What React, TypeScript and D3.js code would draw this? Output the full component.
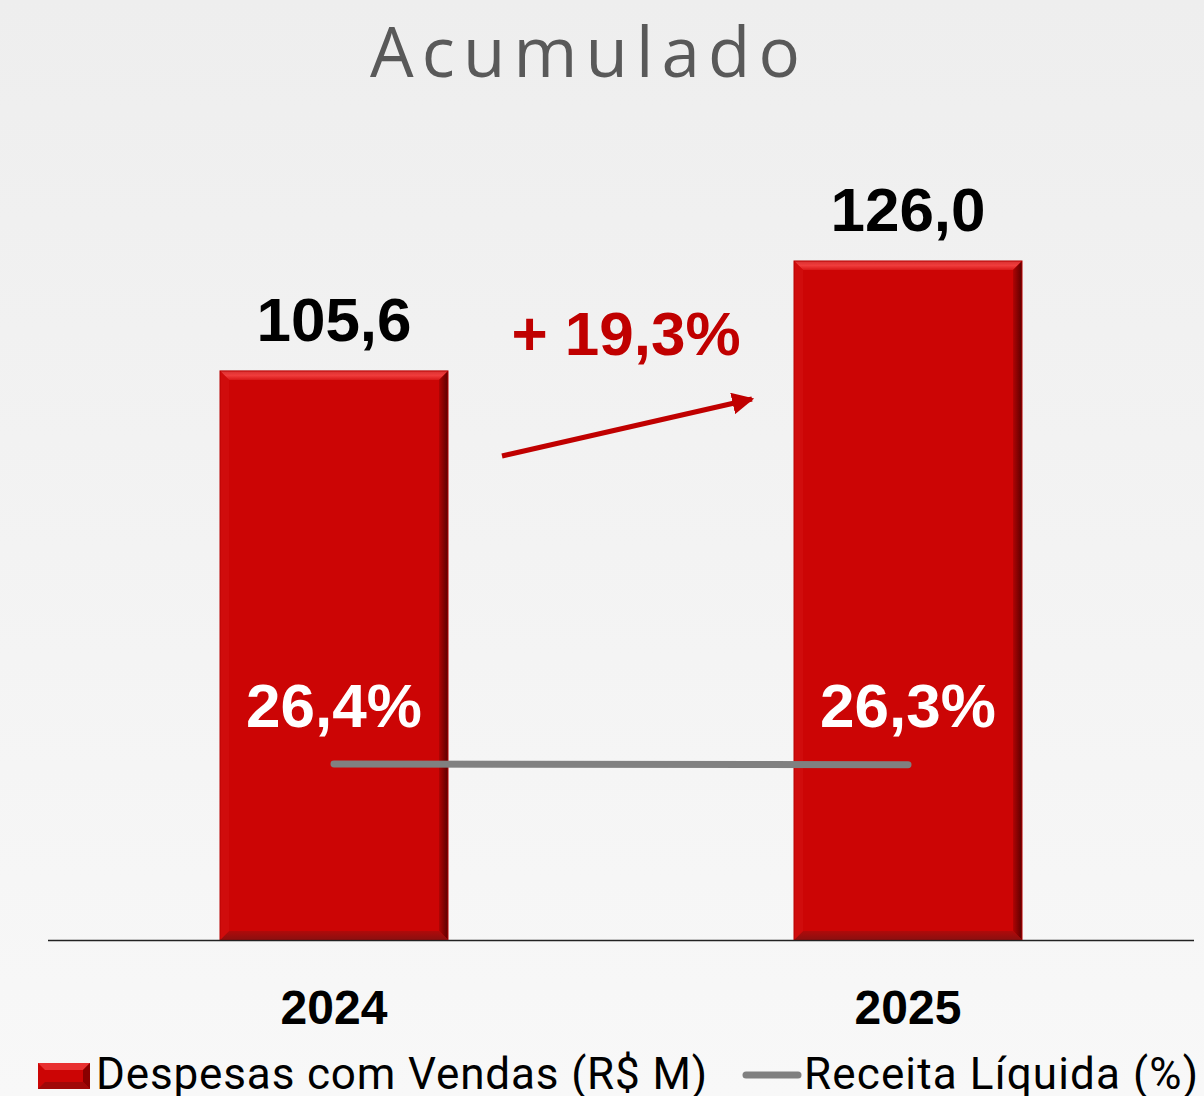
import React from "react";
import * as d3 from "d3";

const years = ["2024", "2025"];
const despesas = [105.6, 126.0];
const receitaPct = [26.4, 26.3];
const valueLabels = ["105,6", "126,0"];
const pctLabels = ["26,4%", "26,3%"];
const growthLabel = "+ 19,3%";
const title = "Acumulado";
const legendBar = "Despesas com Vendas (R$ M)";
const legendLine = "Receita Líquida (%)";

const W = 1204;
const H = 1096;

export default function App() {
  const xb = d3.scaleBand<string>().domain(years).range([220, 1022]).paddingInner(346 / 574).paddingOuter(0);
  const y = d3.scaleLinear().domain([0, 140]).range([940, 940 - 140 * 5.389]);
  const y2 = d3.scaleLinear().domain([0, 150]).range([940, -60]);
  const bw = xb.bandwidth();
  const cx = (d: string) => (xb(d) as number) + bw / 2;
  const line = d3.line<number>().x((_, i) => cx(years[i])).y((d) => y2(d));
  const bev = 9;
  const numFont = "'Liberation Sans', Arial, sans-serif";
  const legFont = "Roboto, 'Noto Sans', sans-serif";

  return (
    <svg width={W} height={H} style={{ position: "absolute", left: 0, top: 0 }}>
      <defs>
        <linearGradient id="bg" x1="0" y1="0" x2="0" y2="1">
          <stop offset="0" stopColor="#eeeeee" />
          <stop offset="1" stopColor="#f8f8f8" />
        </linearGradient>
        <linearGradient id="topBev" x1="0" y1="0" x2="0" y2="1">
          <stop offset="0" stopColor="#d83030" />
          <stop offset="0.5" stopColor="#f03c3c" />
          <stop offset="1" stopColor="#d81818" />
        </linearGradient>
        <linearGradient id="rightBev" x1="0" y1="0" x2="1" y2="0">
          <stop offset="0" stopColor="#b00404" />
          <stop offset="1" stopColor="#5a0000" />
        </linearGradient>
        <linearGradient id="botBev" x1="0" y1="0" x2="0" y2="1">
          <stop offset="0" stopColor="#b00a0a" />
          <stop offset="1" stopColor="#8a1010" />
        </linearGradient>
        <marker id="ah" viewBox="0 0 10 10" refX="9" refY="5" markerWidth="4.4" markerHeight="4.4" orient="auto">
          <path d="M0,0 L10,5 L0,10 z" fill="#c00000" />
        </marker>
      </defs>
      <rect x={0} y={0} width={W} height={H} fill="url(#bg)" />
      <text x={585} y={77} textAnchor="middle" fontFamily="'Open Sans', Lato, sans-serif" fontWeight={400} fontSize={69} textLength={430} lengthAdjust="spacing" fill="#595959">
        {title}
      </text>

      {years.map((yr, i) => {
        const x0 = xb(yr) as number;
        const x1 = x0 + bw;
        const t = y(despesas[i]);
        const b = y(0);
        return (
          <g key={yr}>
            <rect x={x0} y={t} width={bw} height={b - t} fill="#cc0505" />
            <polygon points={`${x0},${t} ${x1},${t} ${x1 - bev},${t + bev} ${x0 + bev},${t + bev}`} fill="url(#topBev)" />
            <polygon points={`${x1},${t} ${x1},${b} ${x1 - bev},${b - bev} ${x1 - bev},${t + bev}`} fill="url(#rightBev)" />
            <polygon points={`${x0},${b} ${x1},${b} ${x1 - bev},${b - bev} ${x0 + bev},${b - bev}`} fill="url(#botBev)" />
            <polygon points={`${x0},${t} ${x0 + bev},${t + bev} ${x0 + bev},${b - bev} ${x0},${b}`} fill="#d00c0c" />
            <rect x={x0} y={t} width={bw} height={b - t} fill="none" stroke="#b80000" strokeWidth={1} />
            <text x={cx(yr)} y={t - 30} textAnchor="middle" fontFamily={numFont} fontWeight={700} fontSize={62} fill="#000">
              {valueLabels[i]}
            </text>
            <text x={cx(yr)} y={727} textAnchor="middle" fontFamily={numFont} fontWeight={700} fontSize={62} fill="#ffffff">
              {pctLabels[i]}
            </text>
            <text x={cx(yr)} y={1024} textAnchor="middle" fontFamily={numFont} fontWeight={700} fontSize={48} fill="#000">
              {yr}
            </text>
          </g>
        );
      })}

      <line x1={48} x2={1194} y1={940.5} y2={940.5} stroke="#222" strokeWidth={1.5} />

      <path d={line(receitaPct) as string} fill="none" stroke="#808080" strokeWidth={7} strokeLinecap="round" />

      <text x={626} y={355} textAnchor="middle" fontFamily={numFont} fontWeight={700} fontSize={62} fill="#c00000">
        {growthLabel}
      </text>
      <line x1={502} y1={456} x2={752} y2={399} stroke="#c00000" strokeWidth={5} markerEnd="url(#ah)" />

      <g>
        <rect x={38} y={1063} width={52} height={26} fill="#cc0505" />
        <polygon points="38,1063 90,1063 83,1070 45,1070" fill="#e83030" />
        <polygon points="90,1063 90,1089 83,1082 83,1070" fill="#8a0000" />
        <polygon points="38,1089 90,1089 83,1082 45,1082" fill="#a00808" />
        <text x={96} y={1089} fontFamily={legFont} fontSize={44} textLength={611} lengthAdjust="spacing" fill="#000">
          {legendBar}
        </text>
        <line x1={746} x2={798} y1={1075} y2={1075} stroke="#808080" strokeWidth={7} strokeLinecap="round" />
        <text x={804} y={1089} fontFamily={legFont} fontSize={44} textLength={394} lengthAdjust="spacing" fill="#000">
          {legendLine}
        </text>
      </g>
    </svg>
  );
}
